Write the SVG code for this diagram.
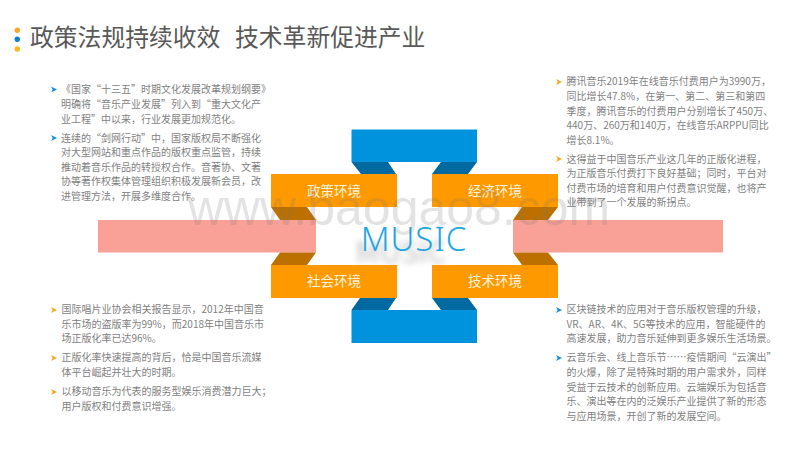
<svg xmlns="http://www.w3.org/2000/svg" width="800" height="450" viewBox="0 0 800 450">
<defs>
<filter id="blur" x="-20%" y="-50%" width="140%" height="200%"><feGaussianBlur stdDeviation="3"/></filter>
</defs>
<style>
text{font-family:"Noto Sans CJK SC","Noto Sans",sans-serif}
.t{font-size:10px;fill:#7f7f7f}
.h{font-size:23.800px;fill:#595959}
.n{font-size:13.500px;fill:#fff3df;text-anchor:middle}
.o{fill:#ff9900}.b{fill:#0093dd}.db{fill:#00699f}.do{fill:#bc7000}.p{fill:#f9a196}
.ab{fill:#0f8fd8}.ao{fill:#f5a623}
</style>
<rect width="800" height="450" fill="#fff"/>
<g id="title">
<circle cx="17.300" cy="30.300" r="2.700" fill="#f5a623"/>
<circle cx="17.300" cy="39.300" r="2.700" fill="#0f7fc8"/>
<circle cx="17.300" cy="49" r="2.700" fill="#fbb917"/>
<text class="h" x="30" y="45.500">政策法规持续收效</text>
<text class="h" x="235" y="45.500">技术革新促进产业</text>
</g>
<g id="connectors">
<rect class="p" x="98" y="220" width="218" height="32.500"/>
<rect class="p" x="513" y="220" width="210" height="32.500"/>
<path class="do" d="M271 207H307L316 220H280Z"/>
<path class="do" d="M280 252.500H316L307 265H271Z"/>
<path class="do" d="M522 207H558L548 220H513Z"/>
<path class="do" d="M513 252.500H548L558 265H522Z"/>
<path class="db" d="M351.500 162H388L396 174H361Z"/>
<path class="db" d="M441 162H477L468 174H432Z"/>
<path class="db" d="M360 298H396L388 310H351.500Z"/>
<path class="db" d="M432 298H468L477 310H441Z"/>
<rect class="b" x="351.500" y="129.500" width="125.500" height="32.500"/>
<rect class="b" x="351.500" y="310" width="125.500" height="33"/>
</g>
<g id="node-zhengce"><rect class="o" x="271" y="174" width="126" height="33"/><text class="n" x="334" y="196">政策环境</text></g>
<g id="node-jingji"><rect class="o" x="432" y="174" width="126" height="33"/><text class="n" x="495" y="196">经济环境</text></g>
<g id="node-shehui"><rect class="o" x="271" y="265" width="126" height="33"/><text class="n" x="334" y="286">社会环境</text></g>
<g id="node-jishu"><rect class="o" x="432" y="265" width="126" height="33"/><text class="n" x="495" y="286">技术环境</text></g>
<g id="center">
<text x="401" y="263" font-size="30" fill="#777" opacity=".45" text-anchor="middle" filter="url(#blur)">MUSIC</text>
<text x="414" y="251" font-size="33" font-weight="300" letter-spacing="1" fill="#1fa6e0" text-anchor="middle" style="font-family:'Noto Sans',sans-serif">MUSIC</text>
</g>
<text x="399" y="225" font-size="50" fill="#777" opacity=".2" text-anchor="middle" style="font-family:'Liberation Sans',sans-serif">www.baogao8.com</text>
<g id="text-tl">
<path class="ab" d="M51 86.500l6 3-6 3 1.700-3zM51 135l6 3-6 3 1.700-3z"/>
<text class="t" x="61" y="93">《国家“十三五”时期文化发展改革规划纲要》</text>
<text class="t" x="61" y="107.500">明确将“音乐产业发展”列入到“重大文化产</text>
<text class="t" x="61" y="122.500">业工程”中以来，行业发展更加规范化。</text>
<text class="t" x="61" y="141.500">连续的“剑网行动”中，国家版权局不断强化</text>
<text class="t" x="61" y="156">对大型网站和重点作品的版权重点监管，持续</text>
<text class="t" x="61" y="171">推动着音乐作品的转授权合作。音著协、文著</text>
<text class="t" x="61" y="185">协等著作权集体管理组织积极发展新会员，改</text>
<text class="t" x="61" y="199.500">进管理方法，开展多维度合作。</text>
</g>
<g id="text-tr">
<path class="ao" d="M556 79l6 3-6 3 1.700-3zM556 156l6 3-6 3 1.700-3z"/>
<text class="t" x="566.500" y="85.400">腾讯音乐2019年在线音乐付费用户为3990万，</text>
<text class="t" x="566.500" y="99.700">同比增长47.8%，在第一、第二、第三和第四</text>
<text class="t" x="566.500" y="114.700">季度，腾讯音乐的付费用户分别增长了450万、</text>
<text class="t" x="566.500" y="129.400">440万、260万和140万，在线音乐ARPPU同比</text>
<text class="t" x="566.500" y="143.700">增长8.1%。</text>
<text class="t" x="566.500" y="162.700">这得益于中国音乐产业这几年的正版化进程，</text>
<text class="t" x="566.500" y="177.400">为正版音乐付费打下良好基础；同时，平台对</text>
<text class="t" x="566.500" y="192">付费市场的培育和用户付费意识觉醒，也将产</text>
<text class="t" x="566.500" y="206.400">业带到了一个发展的新拐点。</text>
</g>
<g id="text-bl">
<path class="ao" d="M51 307l6 3-6 3 1.700-3zM51 355l6 3-6 3 1.700-3zM51 389l6 3-6 3 1.700-3z"/>
<text class="t" x="61.500" y="313.400">国际唱片业协会相关报告显示，2012年中国音</text>
<text class="t" x="61.500" y="328">乐市场的盗版率为99%，而2018年中国音乐市</text>
<text class="t" x="61.500" y="342.400">场正版化率已达96%。</text>
<text class="t" x="61.500" y="361.400">正版化率快速提高的背后，恰是中国音乐流媒</text>
<text class="t" x="61.500" y="376.400">体平台崛起并壮大的时期。</text>
<text class="t" x="61.500" y="395.400">以移动音乐为代表的服务型娱乐消费潜力巨大；</text>
<text class="t" x="61.500" y="410.400">用户版权和付费意识增强。</text>
</g>
<g id="text-br">
<path class="ab" d="M556 307l6 3-6 3 1.700-3zM556 355l6 3-6 3 1.700-3z"/>
<text class="t" x="566.500" y="313.400">区块链技术的应用对于音乐版权管理的升级，</text>
<text class="t" x="566.500" y="328">VR、AR、4K、5G等技术的应用，智能硬件的</text>
<text class="t" x="566.500" y="342.400">高速发展，助力音乐延伸到更多娱乐生活场景。</text>
<text class="t" x="566.500" y="360.700">云音乐会、线上音乐节……疫情期间“云演出”</text>
<text class="t" x="566.500" y="376">的火爆，除了是特殊时期的用户需求外，同样</text>
<text class="t" x="566.500" y="390.700">受益于云技术的创新应用。云端娱乐为包括音</text>
<text class="t" x="566.500" y="405.400">乐、演出等在内的泛娱乐产业提供了新的形态</text>
<text class="t" x="566.500" y="420">与应用场景，开创了新的发展空间。</text>
</g>
</svg>
